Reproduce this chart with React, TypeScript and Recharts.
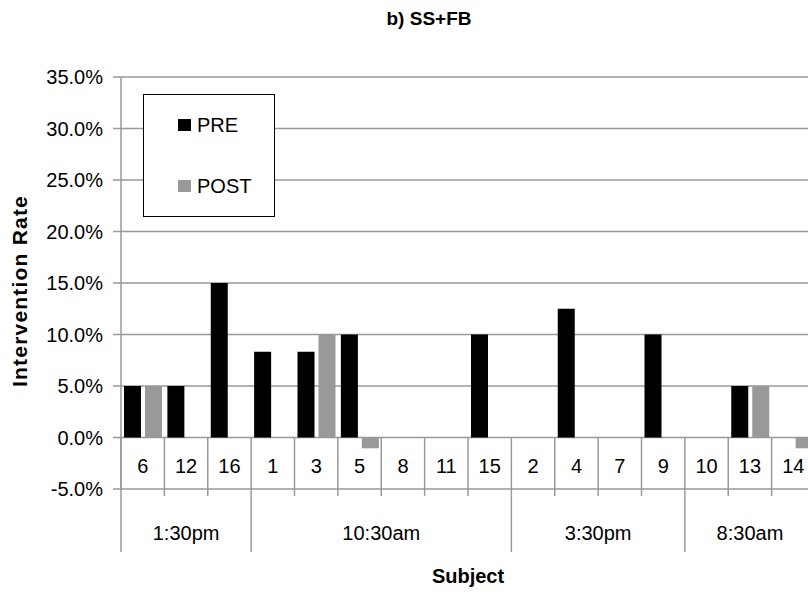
import React from "react"
import {
  BarChart,
  Bar,
  XAxis,
  YAxis,
  CartesianGrid,
  Legend,
} from "recharts"

const subjects = ["6", "12", "16", "1", "3", "5", "8", "11", "15", "2", "4", "7", "9", "10", "13", "14"]
const preValues = [0.05, 0.05, 0.15, 0.0833, 0.0833, 0.1, 0, 0, 0.1, 0, 0.125, 0, 0.1, 0, 0.05, 0]
const postValues = [0.05, 0, 0, 0, 0.1, -0.0105, 0, 0, 0, 0, 0, 0, 0, 0, 0.05, -0.0105]
const groupLabels = ["1:30pm", "10:30am", "3:30pm", "8:30am"]
const groupSizes = [3, 6, 4, 3]
const yTicks = [-0.05, 0, 0.05, 0.1, 0.15, 0.2, 0.25, 0.3, 0.35]
const seriesNames = ["PRE", "POST"]

const FONT = '"Liberation Sans", Arial, Helvetica, sans-serif'
const GRID = "#999"

// layout of the plot area
const CHART_W = 830
const CHART_H = 596
const PLOT_LEFT = 121
const PLOT_TOP = 77
const PLOT_RIGHT = 815
const PLOT_BOTTOM = 489
const Y_MIN = -0.05
const Y_MAX = 0.35

const bandWidth = (PLOT_RIGHT - PLOT_LEFT) / subjects.length
const zeroY = PLOT_TOP + ((Y_MAX - 0) / (Y_MAX - Y_MIN)) * (PLOT_BOTTOM - PLOT_TOP)

const data = subjects.map((s, i) => ({
  subject: s,
  pre: preValues[i],
  post: postValues[i],
}))

// index where each group begins
const groupStarts: number[] = []
groupSizes.reduce((acc, n) => {
  groupStarts.push(acc)
  return acc + n
}, 0)

function SubjectTick(props: any) {
  const { x, payload } = props
  const i = payload.index
  const left = x - bandWidth / 2
  const g = groupStarts.indexOf(i)
  const isGroupStart = g !== -1
  return (
    <g>
      <line
        x1={left}
        x2={left}
        y1={zeroY}
        y2={isGroupStart ? 552 : 496}
        stroke={GRID}
        strokeWidth={1.5}
      />
      {i === subjects.length - 1 && (
        <line
          x1={x + bandWidth / 2}
          x2={x + bandWidth / 2}
          y1={zeroY}
          y2={552}
          stroke={GRID}
          strokeWidth={1.5}
        />
      )}
      <text x={x} y={473} textAnchor="middle" fontSize={20} fill="#000">
        {payload.value}
      </text>
      {isGroupStart && (
        <text
          x={left + (groupSizes[g] * bandWidth) / 2}
          y={540}
          textAnchor="middle"
          fontSize={20}
          fill="#000"
        >
          {groupLabels[g]}
        </text>
      )}
    </g>
  )
}

function LegendBox(props: any) {
  const items = [...(props.payload || [])].sort(
    (a: any, b: any) => seriesNames.indexOf(a.value) - seriesNames.indexOf(b.value)
  )
  return (
    <div
      style={{
        width: 132,
        height: 123,
        boxSizing: "border-box",
        border: "1.5px solid #000",
        background: "#fff",
        paddingTop: 18,
        paddingLeft: 34,
        fontFamily: FONT,
        fontSize: 20,
        color: "#000",
      }}
    >
      {items.map((entry: any, i: number) => (
        <div
          key={i}
          style={{
            display: "flex",
            alignItems: "center",
            height: 24,
            lineHeight: "24px",
            marginBottom: 37,
          }}
        >
          <span
            style={{
              display: "inline-block",
              width: 12.5,
              height: 12.5,
              background: entry.color,
              marginRight: 6.5,
            }}
          />
          <span>{entry.value}</span>
        </div>
      ))}
    </div>
  )
}

export default function App() {
  return (
    <div
      style={{
        position: "absolute",
        left: 0,
        top: 0,
        width: 808,
        height: 596,
        overflow: "hidden",
        background: "#fff",
        fontFamily: FONT,
      }}
    >
      <div
        style={{
          position: "absolute",
          top: 7,
          left: 0,
          width: 858,
          textAlign: "center",
          fontSize: 19,
          fontWeight: "bold",
          lineHeight: "23px",
          zIndex: 2,
        }}
      >
        b) SS+FB
      </div>

      <BarChart
        width={CHART_W}
        height={CHART_H}
        data={data}
        margin={{ top: PLOT_TOP, right: CHART_W - PLOT_RIGHT, bottom: 0, left: 0 }}
        barCategoryGap={3}
        barGap={4}
        style={{ fontFamily: FONT }}
      >
        <CartesianGrid vertical={false} stroke={GRID} strokeWidth={1.5} />

        <XAxis
          dataKey="subject"
          interval={0}
          axisLine={false}
          tickLine={false}
          height={CHART_H - PLOT_BOTTOM}
          tick={SubjectTick}
          label={{
            value: "Subject",
            position: "insideBottom",
            offset: 13,
            fontSize: 20,
            fontWeight: "bold",
            fill: "#000",
          }}
        />

        <YAxis
          width={PLOT_LEFT}
          domain={[Y_MIN, Y_MAX]}
          ticks={yTicks}
          allowDataOverflow
          tickFormatter={(v: number) => (v * 100).toFixed(1) + "%"}
          tick={{ fontSize: 20, fill: "#000" }}
          tickSize={8}
          tickMargin={10}
          axisLine={{ stroke: GRID, strokeWidth: 1.5 }}
          tickLine={{ stroke: GRID, strokeWidth: 1.5 }}
          label={{
            content: (p: any) => {
              const vb = p.viewBox || {}
              const cx = 27
              const cy = (vb.y ?? PLOT_TOP) + (vb.height ?? 412) / 2 + 8
              return (
                <text
                  x={cx}
                  y={cy}
                  transform={`rotate(-90 ${cx} ${cy})`}
                  textAnchor="middle"
                  fontSize={21}
                  fontWeight="bold"
                  letterSpacing={1.2}
                  fill="#000"
                >
                  Intervention Rate
                </text>
              )
            },
          }}
        />

        <Legend
          layout="vertical"
          align="center"
          verticalAlign="middle"
          content={LegendBox}
          wrapperStyle={{ left: 143, top: 94, width: 132, height: 123 }}
        />

        <Bar dataKey="pre" name="PRE" fill="#000" isAnimationActive={false} />
        <Bar dataKey="post" name="POST" fill="#999" isAnimationActive={false} />
      </BarChart>
    </div>
  )
}
